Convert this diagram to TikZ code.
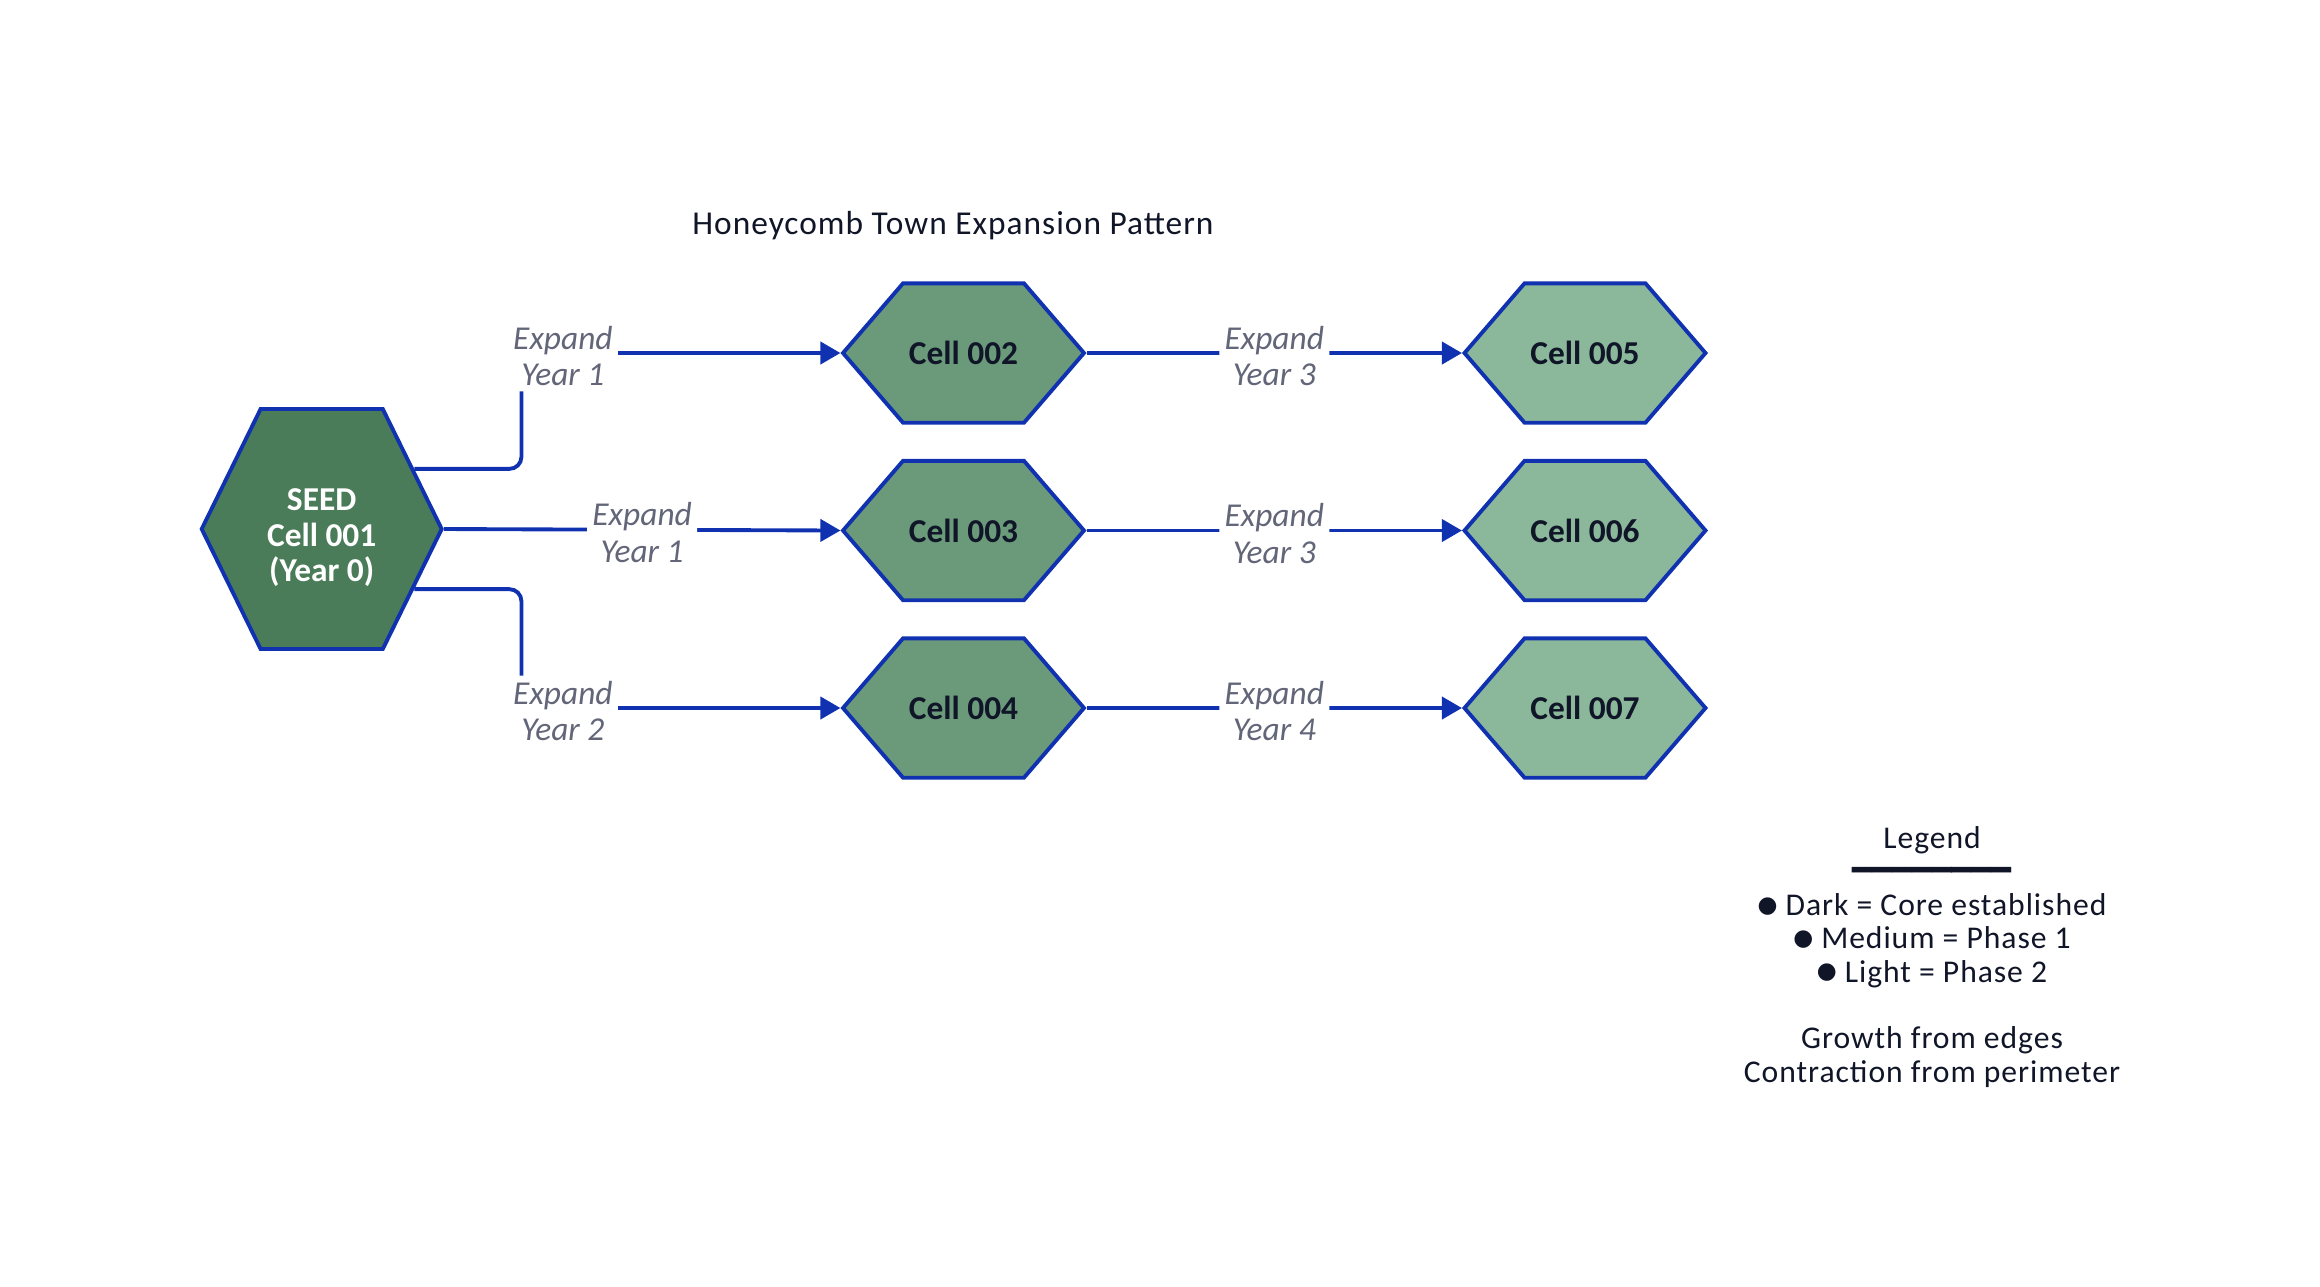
\documentclass[tikz,border=0pt]{standalone}
\usepackage{fontspec}
\setmainfont{Carlito}
\newfontfamily\spacedfont[LetterSpace=3]{Carlito}
\newfontfamily\symfont{DejaVu Sans}
\usetikzlibrary{arrows.meta,shapes.symbols}
\definecolor{cellblue}{RGB}{16,50,176}
\definecolor{darkcell}{RGB}{74,124,89}
\definecolor{medcell}{RGB}{106,154,122}
\definecolor{lightcell}{RGB}{139,184,154}
\definecolor{inkdark}{RGB}{16,21,40}
\definecolor{labelgrey}{RGB}{98,102,120}
\newcommand{\legbullet}{\raisebox{0.9pt}{\symfont\fontsize{6.5}{6.5}\selectfont ●}}

\begin{document}
\begin{tikzpicture}
  \useasboundingbox (0,0) rectangle (23.2,-12.86);
  \tikzstyle{hexcell}=[signal,signal to=west and east,signal pointer angle=98.5,
    draw=cellblue,line width=1.1pt,minimum width=2.41cm,minimum height=1.394cm,
    inner sep=0pt,align=center,text=inkdark,font=\fontsize{9.5}{10.5}\selectfont\bfseries]
  \tikzstyle{seedcell}=[hexcell,signal pointer angle=127.7,fill=darkcell,
    minimum width=2.4cm,minimum height=2.4cm,text=white,font=\fontsize{9.5}{10.1}\selectfont\bfseries]
  \tikzstyle{elabel}=[fill=white,inner sep=1.5pt,align=center,text=labelgrey,
    font=\fontsize{9.5}{10.5}\selectfont\itshape]
  \tikzstyle{flow}=[-{Triangle[length=2mm,width=2.2mm]},cellblue,line width=1.1pt,rounded corners=0.12cm]

  % -- Title --
  \node[text=inkdark,font=\spacedfont\fontsize{9.5}{11}\selectfont] (title) at (9.53,-2.26) {Honeycomb Town Expansion Pattern};

  % -- Seed cell --
  \node[seedcell] (seed) at (3.217,-5.29) {\rule{0pt}{11.2pt}SEED\\ Cell 001\\ (Year 0)};

  % -- Phase 1 cells --
  \node[hexcell,fill=medcell] (c002) at (9.635,-3.53) {Cell 002};
  \node[hexcell,fill=medcell] (c003) at (9.635,-5.305) {Cell 003};
  \node[hexcell,fill=medcell] (c004) at (9.635,-7.08) {Cell 004};

  % -- Phase 2 cells --
  \node[hexcell,fill=lightcell] (c005) at (15.85,-3.53) {Cell 005};
  \node[hexcell,fill=lightcell] (c006) at (15.85,-5.305) {Cell 006};
  \node[hexcell,fill=lightcell] (c007) at (15.85,-7.08) {Cell 007};

  % -- Flows --
  \draw[flow] (seed.33) -| ([xshift=-3.19cm]c002.west)
    -- node[elabel,pos=0.13,yshift=-0.03cm] {Expand\\ Year 1} (c002.west);
  \draw[flow] (seed.east) -- node[elabel,yshift=-0.03cm] {Expand\\ Year 1} (c003.west);
  \draw[flow] (seed.-33) -| ([xshift=-3.19cm]c004.west)
    -- node[elabel,pos=0.13,yshift=-0.03cm] {Expand\\ Year 2} (c004.west);
  \draw[flow] (c002.east) -- node[elabel,yshift=-0.03cm] {Expand\\ Year 3} (c005.west);
  \draw[flow] (c003.east) -- node[elabel,yshift=-0.03cm] {Expand\\ Year 3} (c006.west);
  \draw[flow] (c004.east) -- node[elabel,yshift=-0.03cm] {Expand\\ Year 4} (c007.west);

  % -- Legend --
  \node[align=center,text=inkdark,font=\spacedfont\fontsize{9}{9.5}\selectfont] (legend) at (19.32,-9.57)
    {Legend\\ {\symfont\fontsize{9.4}{9.5}\selectfont ━━━━━━━━}\\
     \legbullet{} Dark = Core established\\
     \legbullet{} Medium = Phase 1\\
     \legbullet{} Light = Phase 2\\[9.5pt]
     Growth from edges\\ Contraction from perimeter};
\end{tikzpicture}
\end{document}
